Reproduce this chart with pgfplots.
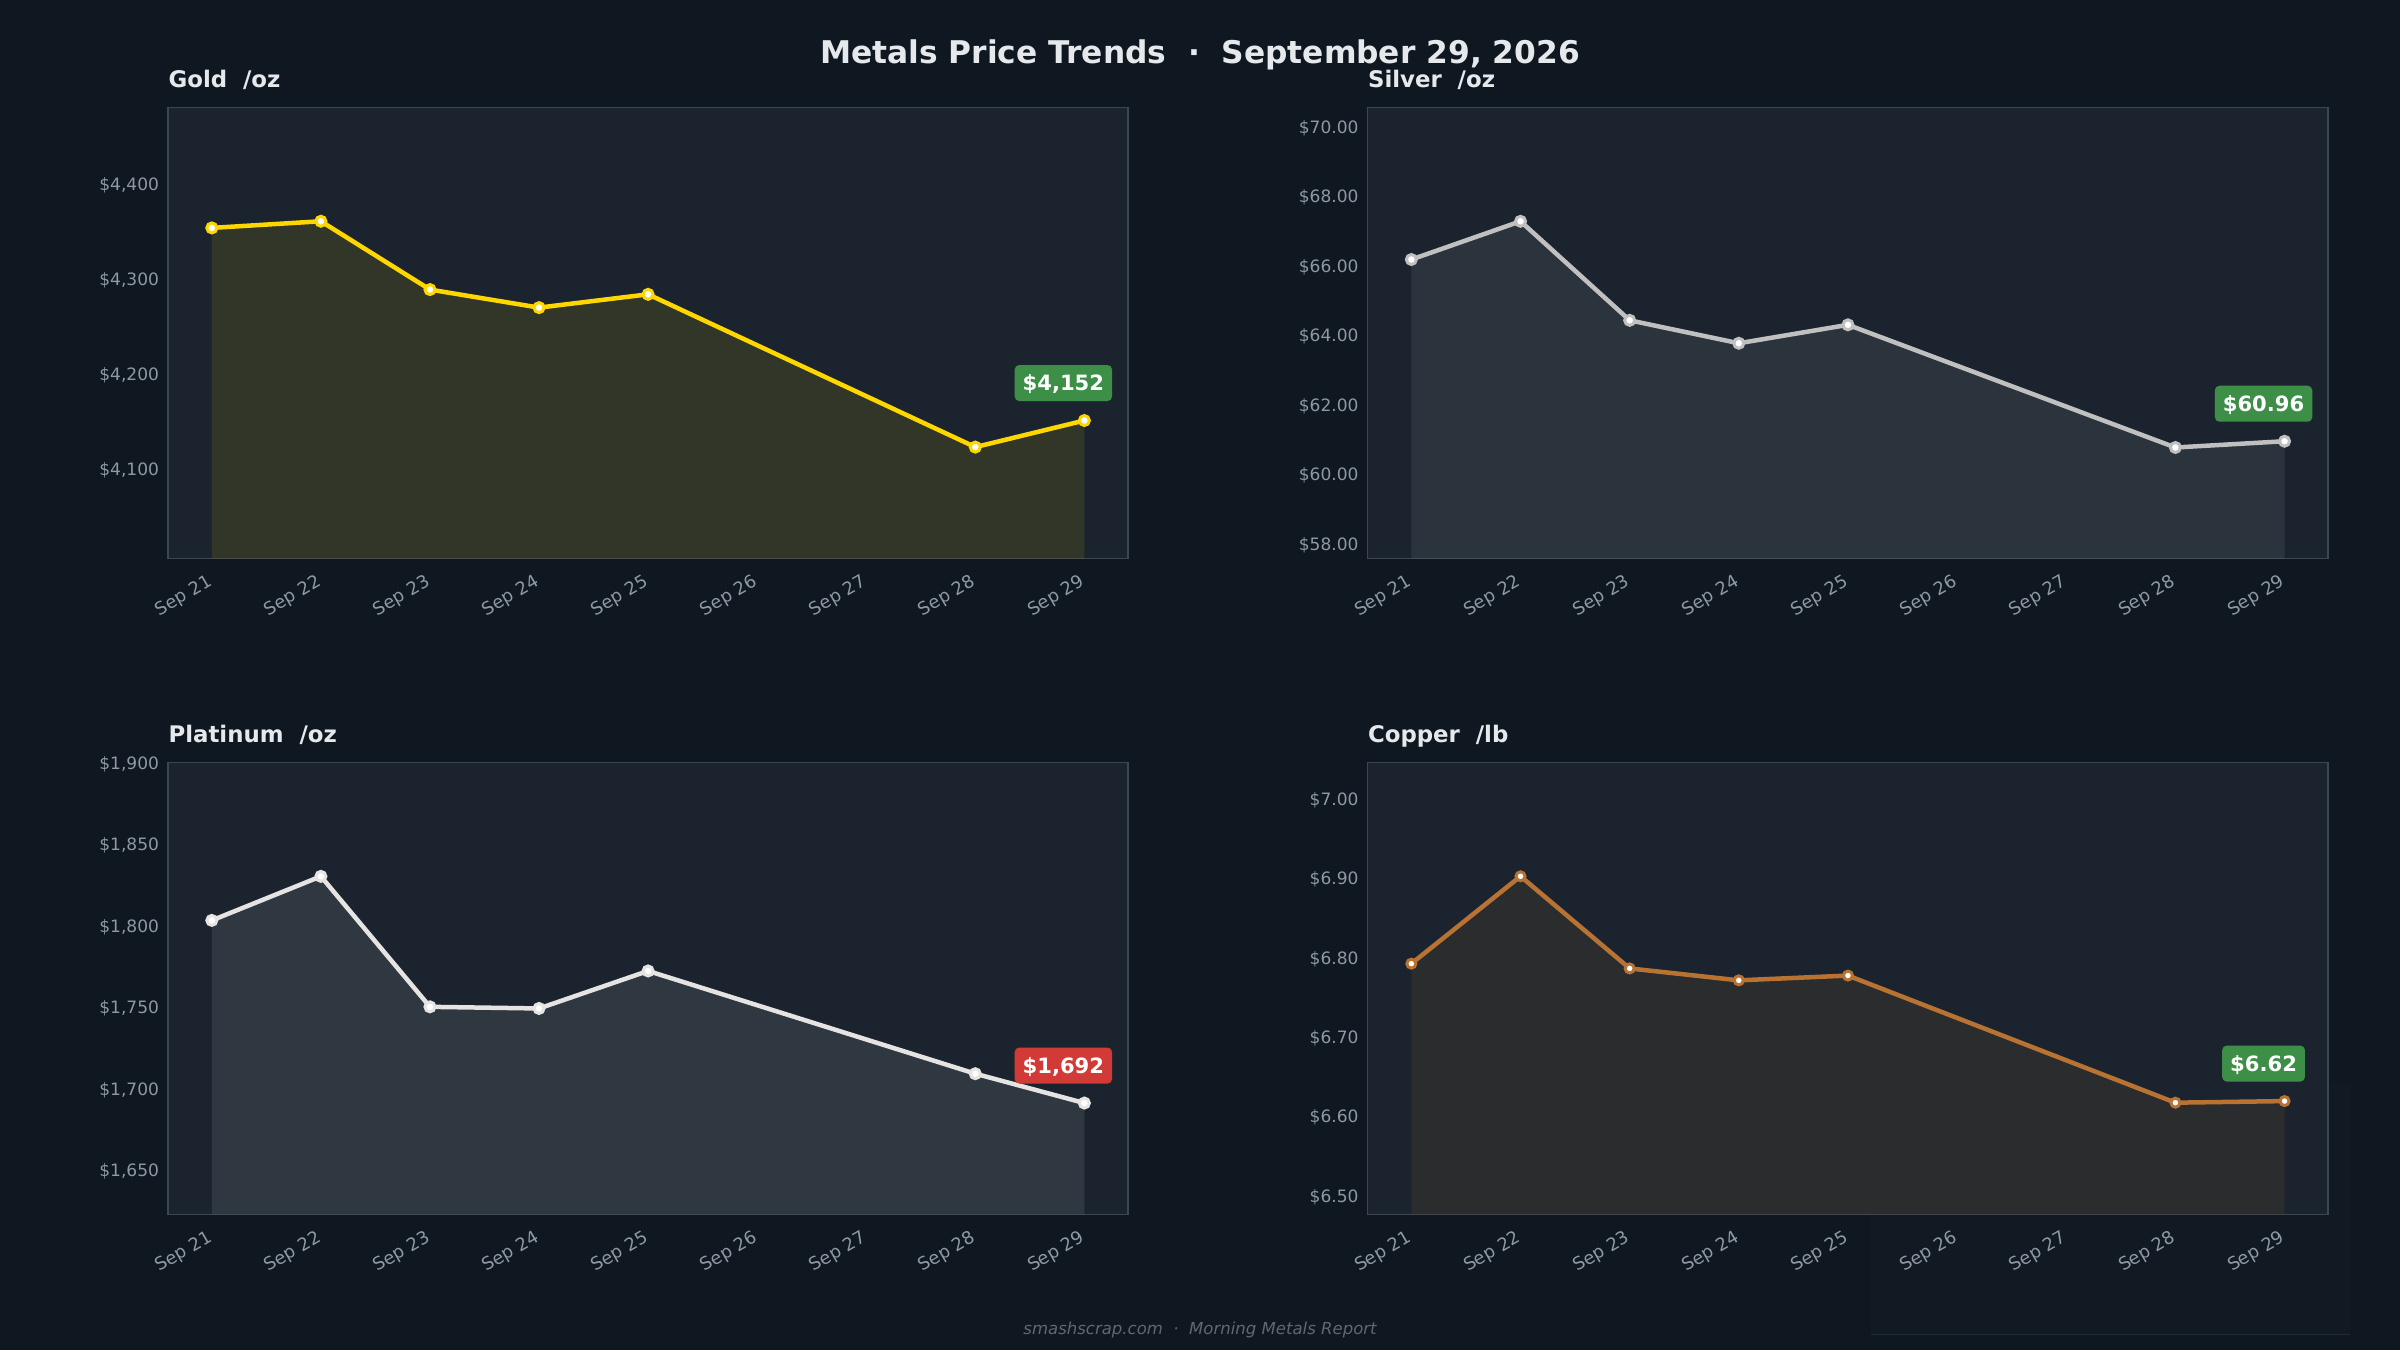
\documentclass[border=0pt]{standalone}
\usepackage{pgfplots}
\pgfplotsset{compat=1.18}
\usepackage{pgfplotstable}
\usepackage{fontspec}
\setmainfont{DejaVu Sans}

\definecolor{figbg}{HTML}{0F1720}
\definecolor{panelbg}{HTML}{1B242E}
\definecolor{frame}{HTML}{3A4652}
\definecolor{tickgray}{HTML}{8E99A4}
\definecolor{titlewhite}{HTML}{E6E9EC}
\definecolor{footgray}{HTML}{5F6872}
\definecolor{gold}{HTML}{FFD700}
\definecolor{silver}{HTML}{C0C0C0}
\definecolor{platinum}{HTML}{E5E4E2}
\definecolor{copper}{HTML}{B87333}
\definecolor{upgreen}{HTML}{3D8F47}
\definecolor{downred}{HTML}{D13A36}

% x: 0 = Sep 21 ... 8 = Sep 29 (no prices Sep 26/27)
\pgfplotstableread{
x y
0 4355
1 4362
2 4290
3 4271
4 4285
7 4124
8 4152
}\goldtab
\pgfplotstableread{
x y
0 66.21
1 67.31
2 64.46
3 63.80
4 64.33
7 60.80
8 60.98
}\silvertab
\pgfplotstableread{
x y
0 1804
1 1831
2 1751
3 1750
4 1773
7 1710
8 1692
}\platinumtab
\pgfplotstableread{
x y
0 6.794
1 6.904
2 6.788
3 6.773
4 6.779
7 6.619
8 6.621
}\coppertab

\pgfplotsset{
  panel/.style={
    scale only axis, anchor=south west,
    xmin=-0.4, xmax=8.4,
    xtick={0,...,8},
    xticklabels={Sep 21,Sep 22,Sep 23,Sep 24,Sep 25,Sep 26,Sep 27,Sep 28,Sep 29},
    major tick length=0pt,
    axis background/.style={fill=panelbg},
    axis line style={draw=frame, line width=0.3mm},
    tick label style={font=\fontsize{9.7}{11.5}\selectfont, text=tickgray},
    xticklabel style={font=\fontsize{10.1}{12}\selectfont, rotate=30, anchor=north east,
      inner sep=0.6mm, xshift=-1.8mm, yshift=-1.4mm},
    yticklabel style={xshift=-0.6mm},
    /pgf/number format/assume math mode=true,
    title style={at={(0,1)}, anchor=base west, yshift=1.9mm, inner sep=0pt,
      font=\bfseries\fontsize{13}{15}\selectfont, text=titlewhite},
    clip mode=individual,
  },
  metal/.style={line width=0.9mm, color=#1, mark=*, mark size=1.0mm,
    mark options={fill=white, draw=#1, line width=0.6mm, solid}},
  area/.style={draw=none, fill=#1, fill opacity=0.10, forget plot},
}
\tikzset{
  badge/.style={fill=#1, rounded corners=0.9mm, text=white,
    font=\bfseries\fontsize{12}{14}\selectfont, inner xsep=1.6mm, inner ysep=1.75mm,
    text height=3.4mm, text depth=0.3mm, anchor=center, xshift=-4.2mm, yshift=7.5mm},
}

\begin{document}
\begin{tikzpicture}
\fill[figbg] (0,0) rectangle (480mm,270mm);
% faint box behind the copper panel, as in the reference
\fill[figbg!92!black!40!panelbg, opacity=0.35] (374.2mm,3mm) rectangle (470mm,53.4mm);
\draw[line width=0.2mm, color=frame!40!figbg] (374.2mm,3mm) -- (470mm,3mm);

% Gold
\begin{axis}[panel, at={(33.64mm,158.26mm)}, width=191.96mm, height=90.2mm,
  ymin=4006.4, ymax=4481.7, ytick={4100,4200,4300,4400},
  yticklabel={\$\pgfmathprintnumber[fixed,precision=0,1000 sep={,}]{\tick}},
  title={Gold\ \ /oz}]
\addplot[area=gold] table {\goldtab} \closedcycle;
\addplot[metal=gold] table {\goldtab};
\node[badge=upgreen] at (axis cs:8,4152) {\$4,152};
\end{axis}

% Silver
\begin{axis}[panel, at={(273.54mm,158.26mm)}, width=192.1mm, height=90.2mm,
  ymin=57.6, ymax=70.58, ytick={58,60,...,70},
  yticklabel={\$\pgfmathprintnumber[fixed,fixed zerofill,precision=2]{\tick}},
  title={Silver\ \ /oz}]
\addplot[area=silver] table {\silvertab} \closedcycle;
\addplot[metal=silver] table {\silvertab};
\node[badge=upgreen] at (axis cs:8,60.98) {\$60.96};
\end{axis}

% Platinum
\begin{axis}[panel, at={(33.64mm,27.14mm)}, width=191.96mm, height=90.32mm,
  ymin=1623.8, ymax=1900.7, ytick={1650,1700,...,1900},
  yticklabel={\$\pgfmathprintnumber[fixed,precision=0,1000 sep={,}]{\tick}},
  title={Platinum\ \ /oz}]
\addplot[area=platinum] table {\platinumtab} \closedcycle;
\addplot[metal=platinum] table {\platinumtab};
\node[badge=downred] at (axis cs:8,1692) {\$1,692};
\end{axis}

% Copper
\begin{axis}[panel, at={(273.54mm,27.14mm)}, width=192.1mm, height=90.32mm,
  ymin=6.4785, ymax=7.047, ytick={6.5,6.6,...,7.01},
  yticklabel={\$\pgfmathprintnumber[fixed,fixed zerofill,precision=2]{\tick}},
  title={Copper\ \ /lb}]
\addplot[area=copper] table {\coppertab} \closedcycle;
\addplot[metal=copper, mark size=0.9mm] table {\coppertab};
\node[badge=upgreen] at (axis cs:8,6.621) {\$6.62};
\end{axis}

\node[anchor=base, text=titlewhite, font=\bfseries\fontsize{17.8}{21}\selectfont]
  at (240mm,257.34mm) {Metals Price Trends\ \ ·\ \ September 29, 2026};
\node[anchor=base, text=footgray, font=\itshape\fontsize{9.4}{11}\selectfont]
  at (240mm,3mm) {smashscrap.com\ \ ·\ \ Morning Metals Report};

\pgfresetboundingbox
\path (0,0) rectangle (480mm,270mm);
\end{tikzpicture}
\end{document}
